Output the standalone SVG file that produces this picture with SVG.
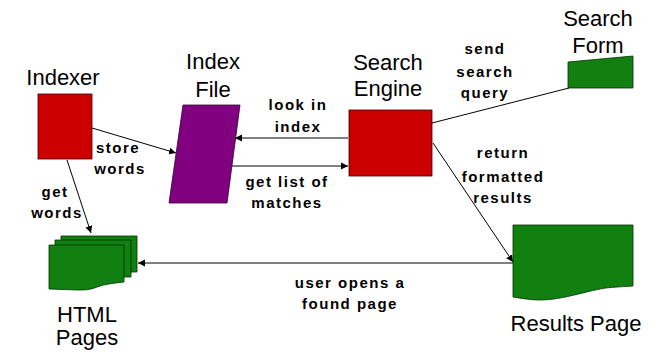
<svg xmlns="http://www.w3.org/2000/svg" width="650" height="359" viewBox="0 0 650 359">
<defs>
<marker id="ah" markerWidth="8" markerHeight="8" refX="7" refY="4" orient="auto" markerUnits="userSpaceOnUse">
<path d="M0,0.5 L7,4 L0,7.5 Z" fill="#000"/>
</marker>
<style>
.big{font-family:"Liberation Sans",Arial,sans-serif;font-size:22px;fill:#000;text-anchor:middle}
.lbl{font-family:"Liberation Sans",Arial,sans-serif;font-size:15px;font-weight:bold;letter-spacing:1.5px;fill:#000;text-anchor:middle}
.red{fill:#CC0000;stroke:#400000;stroke-width:0.8}
.grn{fill:#118011;stroke:#003000;stroke-width:0.8}
.pur{fill:#800080;stroke:#300030;stroke-width:0.8}
.ln{stroke:#000;stroke-width:1;fill:none}
</style>
</defs>
<rect width="650" height="359" fill="#fff"/>
<g id="connectors">
<line class="ln" x1="92" y1="128" x2="176" y2="153" marker-end="url(#ah)"/>
<line class="ln" x1="67" y1="160" x2="91" y2="233" marker-end="url(#ah)"/>
<line class="ln" x1="348" y1="138" x2="235" y2="138" marker-end="url(#ah)"/>
<line class="ln" x1="225" y1="166" x2="348" y2="166" marker-end="url(#ah)"/>
<line class="ln" x1="432" y1="123" x2="569" y2="88"/>
<line class="ln" x1="433" y1="143" x2="513" y2="262" marker-end="url(#ah)"/>
<line class="ln" x1="513" y1="263" x2="138" y2="263" marker-end="url(#ah)"/>
</g>
<g id="indexer">
<rect class="red" x="38" y="94" width="54" height="65"/>
<text class="big" x="63" y="85">Indexer</text>
</g>
<g id="index-file">
<polygon class="pur" points="183,105 240,105 227,203 169,203"/>
<text class="big" x="213" y="69">Index</text>
<text class="big" x="213" y="97">File</text>
</g>
<g id="search-engine">
<rect class="red" x="349" y="110" width="83" height="66"/>
<text class="big" x="388" y="70">Search</text>
<text class="big" x="388" y="96">Engine</text>
</g>
<g id="search-form">
<polygon class="grn" points="568,62 633,56 633,88 568,88"/>
<text class="big" x="598" y="26">Search</text>
<text class="big" x="598" y="53">Form</text>
</g>
<g id="results-page">
<path class="grn" d="M513,225 L633,225 L633,286 C620,287 610,287 600,289 C580,293 560,300 540,300 C530,300 520,298 513,297 Z"/>
<text class="big" x="576" y="331">Results Page</text>
</g>
<g id="html-pages">
<path class="grn" d="M61,236 L137,236 L137,272 L61,272 Z"/>
<path class="grn" d="M55,240 L131,240 L131,277 L55,277 Z"/>
<path class="grn" d="M49,245 L124,245 L124,282 C115,283 105,284 97,287 C90,290 85,290 78,290 L49,289 Z"/>
<text class="big" x="87" y="322">HTML</text>
<text class="big" x="87" y="345">Pages</text>
</g>
<g id="labels">
<text class="lbl" x="118" y="153">store</text>
<text class="lbl" x="120" y="174">words</text>
<text class="lbl" x="55" y="197">get</text>
<text class="lbl" x="57" y="218">words</text>
<text class="lbl" x="298" y="110">look in</text>
<text class="lbl" x="298" y="132">index</text>
<text class="lbl" x="287" y="187">get list of</text>
<text class="lbl" x="287" y="208">matches</text>
<text class="lbl" x="485" y="54">send</text>
<text class="lbl" x="485" y="77">search</text>
<text class="lbl" x="485" y="98">query</text>
<text class="lbl" x="503" y="158">return</text>
<text class="lbl" x="503" y="182">formatted</text>
<text class="lbl" x="503" y="203">results</text>
<text class="lbl" x="350" y="288">user opens a</text>
<text class="lbl" x="350" y="309">found page</text>
</g>
</svg>
